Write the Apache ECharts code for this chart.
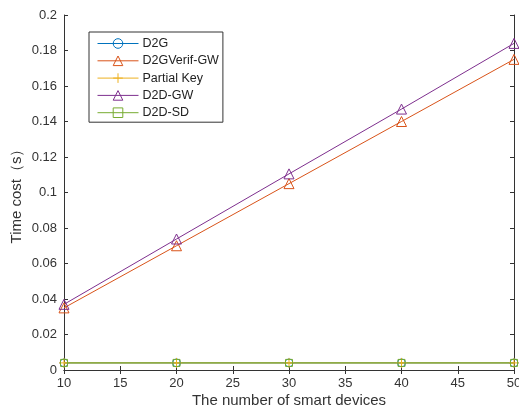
<!DOCTYPE html>
<html>
<head>
<meta charset="utf-8">
<script src="https://cdn.jsdelivr.net/npm/echarts@6/dist/echarts.min.js"></script>
<style>
  html,body{margin:0;padding:0;background:#fff}
  #main{width:519px;height:414px}
</style>
</head>
<body>
<div id="main"></div>
<script>
// devices count on x axis
const devices = [10, 20, 30, 40, 50]
// time cost per scheme (s)
const d2g = [0.004, 0.004, 0.004, 0.004, 0.004]
const d2gVerifGw = [0.035, 0.070, 0.105, 0.140, 0.175]
const partialKey = [0.004, 0.004, 0.004, 0.004, 0.004]
const d2dGw = [0.037, 0.0738, 0.1105, 0.147, 0.184]
const d2dSd = [0.004, 0.004, 0.004, 0.004, 0.004]

const font = 'Liberation Sans, Arial, sans-serif'
const plus = 'path://M0,-5L0,5M-5,0L5,0'

function pairs(arr){
  return devices.map((d,i)=>[d,arr[i]])
}

function mk(name, data, color, symbol, size){
  return {
    name: name,
    type: 'line',
    data: pairs(data),
    symbol: symbol,
    symbolSize: size,
    showAllSymbol: true,
    lineStyle: {color: color, width: 1},
    itemStyle: {color: 'rgba(255,255,255,0)', borderColor: color, borderWidth: 1},
    emphasis: {disabled: true},
    animation: false
  }
}

const chart = echarts.init(document.getElementById('main'))
chart.setOption({
  backgroundColor: '#fff',
  textStyle: {fontFamily: font},
  grid: {left: 64, right: 5, top: 15, bottom: 44, containLabel: false, outerBoundsMode: 'none'},
  legend: {
    orient: 'vertical',
    left: 89, top: 32,
    itemWidth: 41, itemHeight: 12, itemGap: 4.3,
    padding: [5, 4, 3, 8],
    borderColor: '#333', borderWidth: 1,
    backgroundColor: '#fff',
    lineStyle: {width: 1},
    itemStyle: {borderWidth: 1},
    textStyle: {fontFamily: font, fontSize: 12.5, color: '#222', padding: [0, 0, 0, -1]},
    data: ['D2G', 'D2GVerif-GW', 'Partial Key', 'D2D-GW', 'D2D-SD']
  },
  xAxis: [{
    type: 'value', min: 10, max: 50, interval: 5,
    name: 'The number of smart devices', nameLocation: 'middle', nameGap: 23,
    nameMoveOverlap: false,
    nameTextStyle: {fontFamily: font, fontSize: 15, color: '#333'},
    axisLine: {lineStyle: {color: '#333'}},
    axisTick: {inside: true, length: 4, lineStyle: {color: '#333'}},
    axisLabel: {color: '#333', fontSize: 13, margin: 7},
    splitLine: {show: false}
  }, {
    type: 'value', min: 10, max: 50, interval: 5, position: 'top',
    axisLine: {lineStyle: {color: '#333'}},
    axisTick: {inside: true, length: 4, lineStyle: {color: '#333'}},
    axisLabel: {show: false}, splitLine: {show: false}
  }],
  yAxis: [{
    type: 'value', min: 0, max: 0.2, interval: 0.02,
    name: 'Time cost（s）', nameLocation: 'middle', nameGap: 40,
    nameMoveOverlap: false,
    nameTextStyle: {fontFamily: font, fontSize: 15, color: '#333'},
    axisLine: {lineStyle: {color: '#333'}},
    axisTick: {inside: true, length: 4, lineStyle: {color: '#333'}},
    axisLabel: {color: '#333', fontSize: 13, margin: 7, formatter: v => String(+v.toFixed(2))},
    splitLine: {show: false}
  }, {
    type: 'value', min: 0, max: 0.2, interval: 0.02, position: 'right',
    axisLine: {show: true, lineStyle: {color: '#333'}},
    axisTick: {inside: true, length: 4, lineStyle: {color: '#333'}},
    axisLabel: {show: false}, splitLine: {show: false}
  }],
  series: [
    mk('D2G', d2g, '#0072BD', 'circle', 8),
    mk('D2GVerif-GW', d2gVerifGw, '#D95319', 'triangle', 10),
    mk('Partial Key', partialKey, '#EDB120', plus, 10),
    mk('D2D-GW', d2dGw, '#7E2F8E', 'triangle', 10),
    mk('D2D-SD', d2dSd, '#77AC30', 'rect', 7)
  ]
})
</script>
</body>
</html>
